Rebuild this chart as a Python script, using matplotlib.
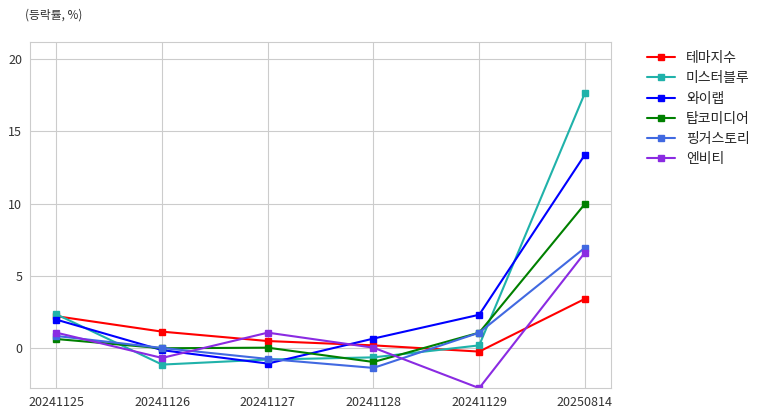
import matplotlib.pyplot as plt
import seaborn as sns

dates = ["20241125", "20241126", "20241127", "20241128", "20241129", "20250814"]

theme_index = [2.2, 1.13, 0.48, 0.18, -0.25, 3.4]
mister_blue = [2.33, -1.15, -0.8, -0.65, 0.18, 17.65]
ylab = [1.96, -0.15, -1.08, 0.65, 2.3, 13.38]
topcomedy = [0.62, -0.02, 0.02, -0.97, 1.06, 9.97]
fingerstory = [0.83, 0.0, -0.76, -1.38, 1.06, 6.94]
envity = [1.06, -0.69, 1.06, 0.02, -2.78, 6.6]

names = ["테마지수", "미스터블루", "와이랩", "탑코미디어", "핑거스토리", "엔비티"]
series = [theme_index, mister_blue, ylab, topcomedy, fingerstory, envity]
colors = ["red", "lightseagreen", "blue", "green", "royalblue", "blueviolet"]

sns.set_style("whitegrid")
plt.rcParams["font.family"] = ["Noto Sans CJK KR", "DejaVu Sans"]

fig = plt.figure(figsize=(7.68, 4.16), dpi=100)
ax = fig.add_axes([0.039, 0.067, 0.757, 0.832])

x = range(len(dates))
for vals, name, c in zip(series, names, colors):
    ax.plot(x, vals, marker="s", markersize=4, linewidth=1.5, color=c, label=name)

all_vals = [v for s in series for v in s]
ax.set_ylim(min(all_vals), max(all_vals) * 1.2)
ax.set_xlim(-0.25, len(dates) - 0.75)
ax.set_xticks(list(x))
ax.set_xticklabels(dates)
ax.set_yticks([0, 5, 10, 15, 20])
ax.tick_params(labelsize=9, colors="#333333", pad=2)
for sp in ax.spines.values():
    sp.set_color("#cccccc")

ax.legend(loc="upper left", bbox_to_anchor=(1.04, 1.01), frameon=False,
          fontsize=10, labelspacing=0.45)
fig.text(0.033, 0.955, "(등락률, %)", fontsize=8.5, color="#333333")

fig.savefig("out.png", dpi=100)
